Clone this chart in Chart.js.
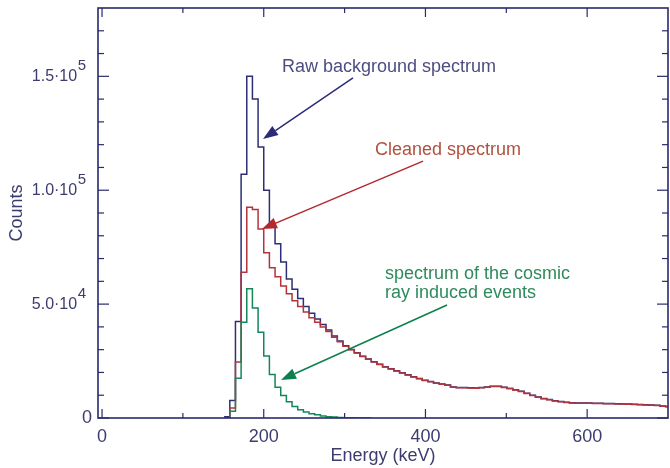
<!DOCTYPE html>
<html>
<head>
<meta charset="utf-8">
<script src="https://cdn.jsdelivr.net/npm/chart.js@4.4.1/dist/chart.umd.min.js"></script>
<style>
  html, body { margin: 0; padding: 0; background: #ffffff; }
</style>
</head>
<body>
<canvas id="spectrumChart" width="670" height="468"></canvas>
<script>
// bin edges in keV (left edge of each 7 keV bin, last entry closes the final bin)
const binEdges = [
  151, 158, 165, 172, 179, 186, 193, 200, 207, 214, 221, 228, 235, 242, 249, 256,
  263, 270, 277, 284, 291, 298, 305, 312, 319, 326, 333, 340, 347, 354, 361, 368,
  375, 382, 389, 396, 403, 410, 417, 424, 431, 438, 445, 452, 459, 466, 473, 480,
  487, 494, 501, 508, 515, 522, 529, 536, 543, 550, 557, 564, 571, 578, 585, 592,
  599, 606, 613, 620, 627, 634, 641, 648, 655, 662, 669, 676, 683, 690, 697, 704
];

// counts per bin
const rawCounts = [
  600, 7700, 42400, 107000, 150000, 140000, 119000, 100000, 85500, 76500, 68500, 61000,
  56500, 52500, 49000, 46000, 43500, 41000, 38600, 36000, 33800, 31700, 30100, 28600,
  27100, 25900, 24700, 23600, 22500, 21600, 20700, 19900, 19000, 18100, 17300, 16600,
  16000, 15400, 14900, 14500, 13600, 13400, 13400, 13300, 13200, 13400, 13600, 13900,
  13900, 13500, 13000, 12400, 11700, 10900, 10000, 9200, 8600, 8100, 7600, 7200,
  6900, 6700, 6600, 6600, 6600, 6500, 6500, 6400, 6400, 6300, 6200, 6100,
  6000, 5900, 5800, 5700, 5600, 5300, 5000
];
const cleanedCounts = [
  0, 4400, 24600, 64000, 92500, 91500, 83000, 72500, 66000, 62000, 58000, 54500,
  51500, 49000, 46500, 44000, 42000, 40000, 38000, 35500, 33500, 31500, 30000, 28500,
  27000, 25800, 24600, 23500, 22400, 21500, 20600, 19800, 18900, 18000, 17200, 16500,
  15900, 15300, 14800, 14400, 13500, 13300, 13300, 13200, 13100, 13300, 13500, 13800,
  13800, 13400, 12900, 12300, 11600, 10800, 9900, 9100, 8500, 8000, 7500, 7100,
  6800, 6600, 6500, 6500, 6500, 6400, 6400, 6300, 6300, 6200, 6100, 6000,
  5900, 5800, 5700, 5600, 5500, 5200, 4900
];
const cosmicCounts = [
  0, 3000, 17500, 42000, 56700, 48300, 37600, 27200, 19100, 13500, 9900, 7100,
  5100, 3600, 2600, 1900, 1400, 900, 600, 400, 250, 150, 100, 50, 0, 0
];

// axis ticks
const xMajorTicks = [0, 200, 400, 600];
const xMinorTicks = [100, 300, 500];
const yMajorTicks = [0, 50000, 100000, 150000];
const yMinorTicks = [
  10000, 20000, 30000, 40000, 60000, 70000, 80000, 90000,
  110000, 120000, 130000, 140000, 160000, 170000
];
const yTickMantissa = ['0', '5.0\u00b710', '1.0\u00b710', '1.5\u00b710'];
const yTickExponent = ['', '4', '5', '5'];

// labels and arrows, placed in data units
const notes = [
  { text: 'Raw background spectrum', x: 222.6, y: 151900, color: '#4d4d82' },
  { text: 'Cleaned spectrum', x: 337.6, y: 115600, color: '#b0513f' },
  { text: 'spectrum of the cosmic', x: 350, y: 61200, color: '#2f8a5c' },
  { text: 'ray induced events', x: 350, y: 52800, color: '#2f8a5c' }
];
const arrows = [
  { from: [310.4, 149300], to: [199.1, 122500], color: '#2b2b78' },
  { from: [397, 112800], to: [197.8, 83000], color: '#b3282e' },
  { from: [426.7, 49600], to: [221.3, 16700], color: '#0c7f4c' }
];

const FONT = '"Liberation Sans", Arial, Helvetica, sans-serif';
const axisColor = '#2a2a6c';
const labelColor = '#3c3c6e';

function toPoints(values) {
  const pts = values.map((v, i) => ({ x: binEdges[i], y: v }));
  pts.push({ x: binEdges[values.length], y: values[values.length - 1] });
  return pts;
}

// box, inward ticks, tick labels and annotations
const frameAndNotes = {
  id: 'frameAndNotes',
  afterDatasetsDraw(chart) {
    const { ctx, chartArea: a, scales } = chart;
    const xs = scales.x, ys = scales.y;
    ctx.save();

    const seg = (x1, y1, x2, y2) => {
      ctx.beginPath();
      ctx.moveTo(x1, y1);
      ctx.lineTo(x2, y2);
      ctx.stroke();
    };

    ctx.strokeStyle = axisColor;
    ctx.lineWidth = 1.2;
    xMajorTicks.forEach((v) => {
      const px = xs.getPixelForValue(v);
      seg(px, a.bottom, px, a.bottom - 9);
      seg(px, a.top, px, a.top + 9);
    });
    xMinorTicks.forEach((v) => {
      const px = xs.getPixelForValue(v);
      seg(px, a.bottom, px, a.bottom - 5);
      seg(px, a.top, px, a.top + 5);
    });
    yMajorTicks.forEach((v) => {
      const py = ys.getPixelForValue(v);
      seg(a.left, py, a.left + 11, py);
      seg(a.right, py, a.right - 11, py);
    });
    yMinorTicks.forEach((v) => {
      const py = ys.getPixelForValue(v);
      seg(a.left, py, a.left + 6, py);
      seg(a.right, py, a.right - 6, py);
    });

    ctx.lineWidth = 1.6;
    ctx.strokeRect(a.left, a.top, a.right - a.left, a.bottom - a.top);

    // tick labels
    ctx.fillStyle = labelColor;
    ctx.textBaseline = 'middle';
    ctx.textAlign = 'center';
    ctx.font = '18px ' + FONT;
    xMajorTicks.forEach((v) => {
      ctx.fillText(String(v), xs.getPixelForValue(v), a.bottom + 19);
    });

    yMajorTicks.forEach((v, i) => {
      const py = ys.getPixelForValue(v);
      ctx.textAlign = 'right';
      if (!yTickExponent[i]) {
        ctx.font = '18px ' + FONT;
        ctx.fillText(yTickMantissa[i], a.left - 6, py);
        return;
      }
      ctx.font = '15px ' + FONT;
      const ew = ctx.measureText(yTickExponent[i]).width;
      ctx.fillText(yTickExponent[i], a.left - 12, py - 10);
      ctx.font = '16px ' + FONT;
      ctx.fillText(yTickMantissa[i], a.left - 12.5 - ew, py);
    });

    // notes
    ctx.textAlign = 'left';
    ctx.textBaseline = 'alphabetic';
    ctx.font = '18px ' + FONT;
    notes.forEach((n) => {
      ctx.fillStyle = n.color;
      ctx.fillText(n.text, xs.getPixelForValue(n.x), ys.getPixelForValue(n.y));
    });

    arrows.forEach((ar) => {
      const x1 = xs.getPixelForValue(ar.from[0]), y1 = ys.getPixelForValue(ar.from[1]);
      const x2 = xs.getPixelForValue(ar.to[0]), y2 = ys.getPixelForValue(ar.to[1]);
      const ang = Math.atan2(y2 - y1, x2 - x1);
      const head = 15, half = 5.5;
      const bx = x2 - head * Math.cos(ang), by = y2 - head * Math.sin(ang);
      ctx.strokeStyle = ar.color;
      ctx.fillStyle = ar.color;
      ctx.lineWidth = 1.5;
      seg(x1, y1, bx, by);
      ctx.beginPath();
      ctx.moveTo(x2, y2);
      ctx.lineTo(bx + half * Math.sin(ang), by - half * Math.cos(ang));
      ctx.lineTo(bx - half * Math.sin(ang), by + half * Math.cos(ang));
      ctx.closePath();
      ctx.fill();
    });

    ctx.restore();
  }
};

const lineStyle = {
  stepped: true,
  borderWidth: 1.5,
  pointRadius: 0,
  fill: false,
  tension: 0
};

new Chart(document.getElementById('spectrumChart'), {
  type: 'line',
  data: {
    datasets: [
      { ...lineStyle, label: 'cosmic ray induced', data: toPoints(cosmicCounts), borderColor: '#12875a' },
      { ...lineStyle, label: 'cleaned', data: toPoints(cleanedCounts), borderColor: '#b3333a' },
      { ...lineStyle, label: 'raw background', data: toPoints(rawCounts), borderColor: '#2e2e76' }
    ]
  },
  options: {
    responsive: false,
    animation: false,
    events: [],
    layout: { padding: { left: 0, right: 2, top: 8, bottom: 0 } },
    plugins: {
      legend: { display: false },
      tooltip: { enabled: false }
    },
    scales: {
      x: {
        type: 'linear',
        min: -5,
        max: 700,
        ticks: { display: false },
        grid: { display: false, drawTicks: false },
        border: { display: false },
        title: {
          display: true,
          text: 'Energy (keV)',
          color: labelColor,
          font: { size: 18, family: FONT },
          padding: { top: 0, bottom: 1 }
        },
        afterFit: (s) => { s.height = 50; }
      },
      y: {
        min: 0,
        max: 180000,
        ticks: { display: false },
        grid: { display: false, drawTicks: false },
        border: { display: false },
        title: {
          display: true,
          text: 'Counts',
          color: labelColor,
          font: { size: 18, family: FONT },
          padding: { top: 6, bottom: 0 }
        },
        afterFit: (s) => { s.width = 98; }
      }
    }
  },
  plugins: [frameAndNotes]
});
</script>
</body>
</html>
